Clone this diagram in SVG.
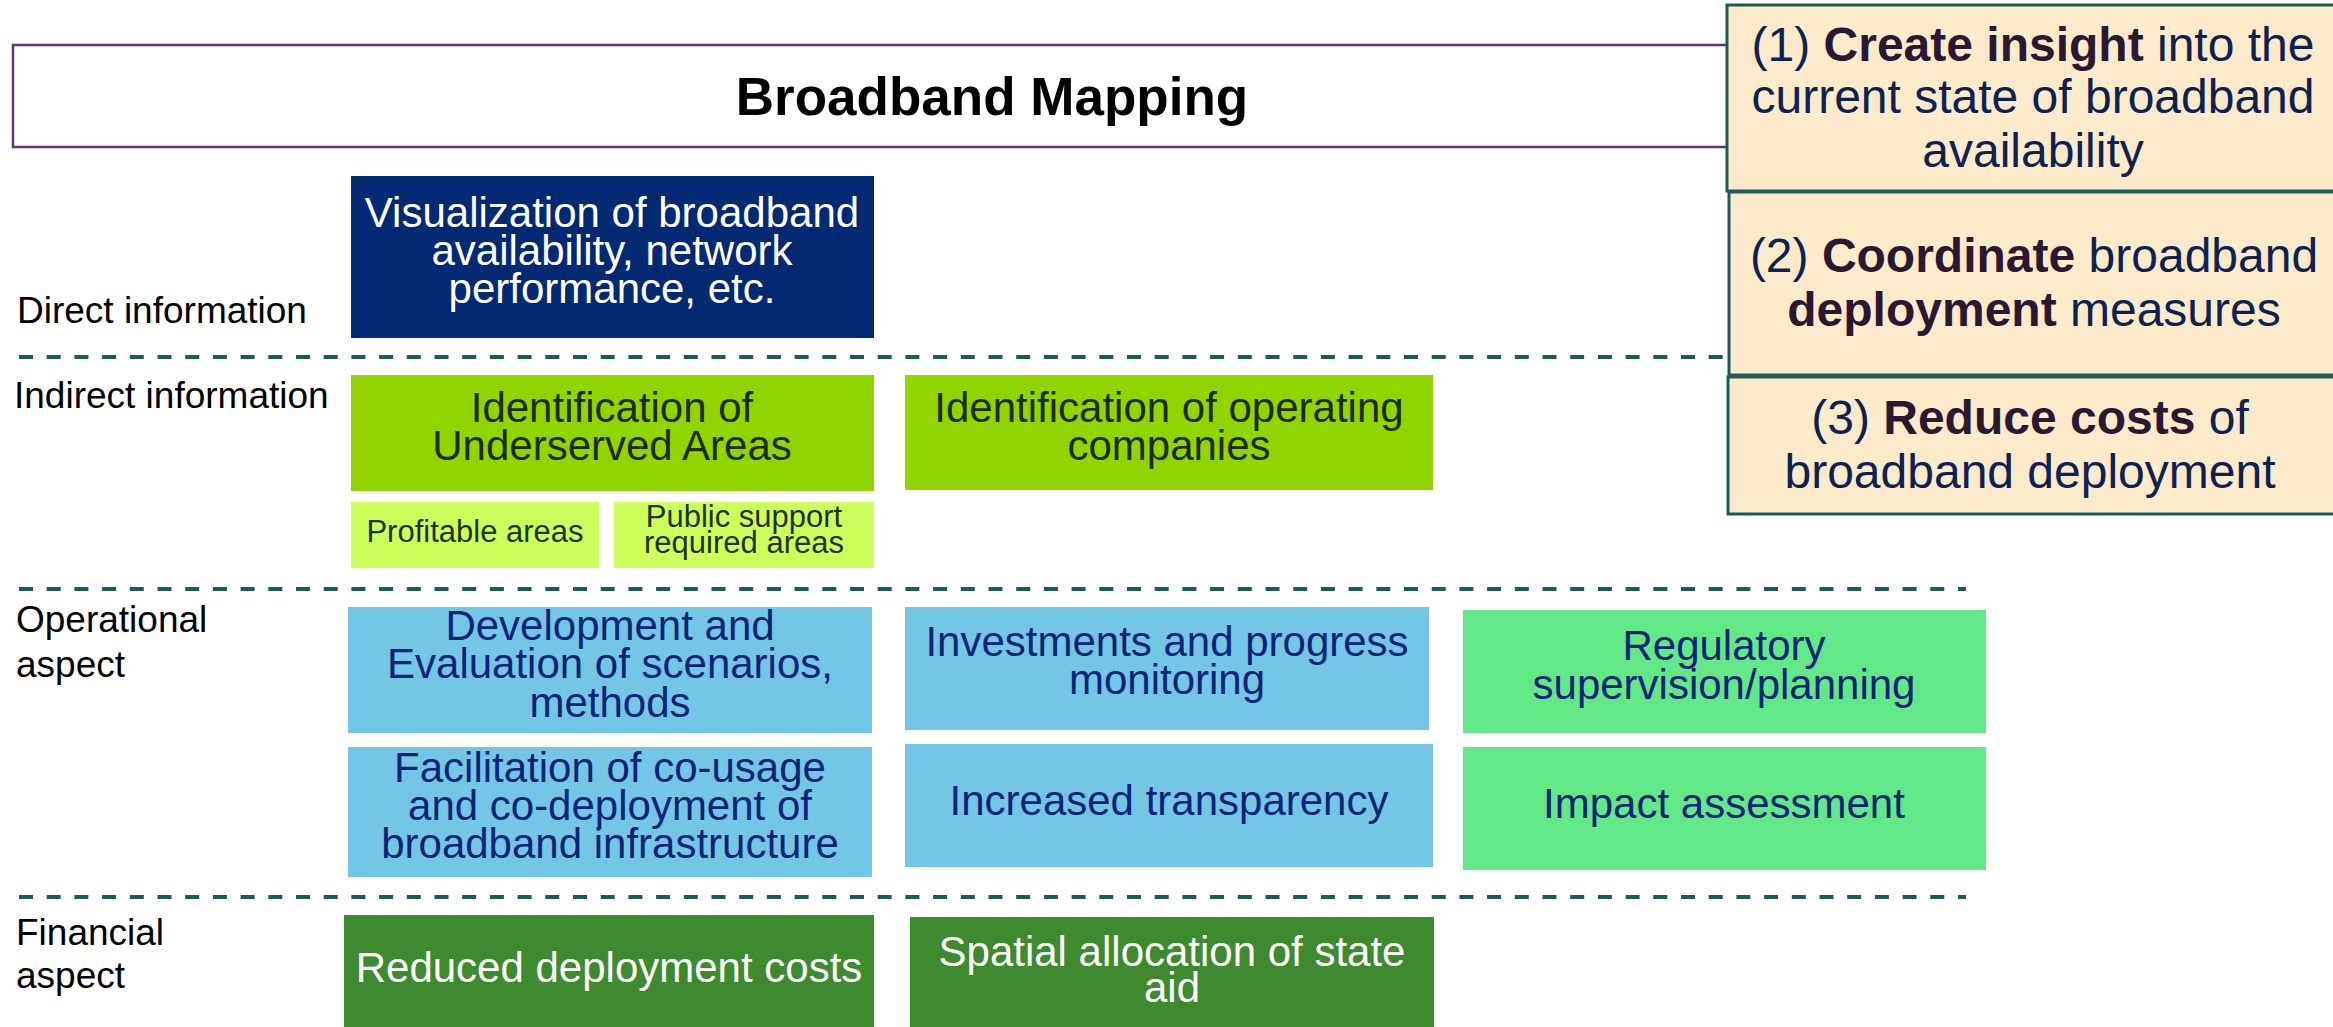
<svg xmlns="http://www.w3.org/2000/svg" width="2333" height="1027" viewBox="0 0 2333 1027">
<style>
text{font-family:"Liberation Sans",Arial,sans-serif;}
.lbl{font-size:37px;fill:#000;}
.nt{font-size:42px;text-anchor:middle;}
.sm{font-size:31px;text-anchor:middle;fill:#1f3310;}
.goal{font-size:48px;text-anchor:middle;fill:#0e2150;}
.goal tspan.b{font-weight:bold;fill:#2a1833;}
.sep{stroke:#1d5a5a;stroke-width:4;stroke-dasharray:14 13.7;fill:none;}
.beige{fill:#fcebcb;stroke:#1d5a5a;stroke-width:3;}
.navy{fill:#012a72;}
.lime{fill:#92d400;}
.llime{fill:#cdff5c;}
.lblue{fill:#73c6e5;}
.mint{fill:#62e887;}
.dgreen{fill:#3e8a2f;}
.tw{fill:#ffffff;}
.tn{fill:#0c2378;}
.tg{fill:#1c2b0c;}
</style>

<g id="title">
  <rect x="13" y="45" width="1730" height="102" fill="#ffffff" stroke="#5c3a6e" stroke-width="2.5"/>
  <text x="992" y="115" font-size="53" font-weight="bold" text-anchor="middle" fill="#000">Broadband Mapping</text>
</g>

<g id="separators">
  <line class="sep" x1="19" y1="357" x2="1727" y2="357"/>
  <line class="sep" x1="19" y1="589" x2="1966" y2="589"/>
  <line class="sep" x1="19" y1="897" x2="1966" y2="897"/>
</g>

<g id="goal1">
  <rect class="beige" x="1727" y="5" width="620" height="186"/>
  <text class="goal" x="2033" y="61">(1) <tspan class="b">Create insight</tspan> into the</text>
  <text class="goal" x="2033" y="113">current state of broadband</text>
  <text class="goal" x="2033" y="167">availability</text>
</g>
<g id="goal2">
  <rect class="beige" x="1729" y="192" width="620" height="183"/>
  <text class="goal" x="2034" y="272">(2) <tspan class="b">Coordinate</tspan> broadband</text>
  <text class="goal" x="2034" y="326"><tspan class="b">deployment</tspan> measures</text>
</g>
<g id="goal3">
  <rect class="beige" x="1728" y="377" width="620" height="137"/>
  <text class="goal" x="2030" y="434">(3) <tspan class="b">Reduce costs</tspan> of</text>
  <text class="goal" x="2030" y="488">broadband deployment</text>
</g>

<g id="label-direct"><text class="lbl" x="17" y="323">Direct information</text></g>
<g id="label-indirect"><text class="lbl" x="14" y="408">Indirect information</text></g>
<g id="label-operational"><text class="lbl" x="16" y="632">Operational</text><text class="lbl" x="16" y="677">aspect</text></g>
<g id="label-financial"><text class="lbl" x="16" y="945">Financial</text><text class="lbl" x="16" y="988">aspect</text></g>

<g id="visualization">
  <rect class="navy" x="351" y="176" width="523" height="162"/>
  <text class="nt tw" x="612" y="227">Visualization of broadband</text>
  <text class="nt tw" x="612" y="265">availability, network</text>
  <text class="nt tw" x="612" y="303">performance, etc.</text>
</g>

<g id="underserved">
  <rect class="lime" x="351" y="375" width="523" height="116"/>
  <text class="nt tg" x="612" y="422">Identification of</text>
  <text class="nt tg" x="612" y="460">Underserved Areas</text>
</g>
<g id="profitable">
  <rect class="llime" x="351" y="502" width="248" height="66"/>
  <text class="sm" x="475" y="542">Profitable areas</text>
</g>
<g id="public-support">
  <rect class="llime" x="614" y="502" width="260" height="66"/>
  <text class="sm" x="744" y="527">Public support</text>
  <text class="sm" x="744" y="553">required areas</text>
</g>
<g id="operating-companies">
  <rect class="lime" x="905" y="375" width="528" height="115"/>
  <text class="nt tg" x="1169" y="422">Identification of operating</text>
  <text class="nt tg" x="1169" y="460">companies</text>
</g>

<g id="development">
  <rect class="lblue" x="348" y="607" width="524" height="126"/>
  <text class="nt tn" x="610" y="640">Development and</text>
  <text class="nt tn" x="610" y="678">Evaluation of scenarios,</text>
  <text class="nt tn" x="610" y="717">methods</text>
</g>
<g id="facilitation">
  <rect class="lblue" x="348" y="747" width="524" height="130"/>
  <text class="nt tn" x="610" y="782">Facilitation of co-usage</text>
  <text class="nt tn" x="610" y="820">and co-deployment of</text>
  <text class="nt tn" x="610" y="858">broadband infrastructure</text>
</g>
<g id="investments">
  <rect class="lblue" x="905" y="607" width="524" height="123"/>
  <text class="nt tn" x="1167" y="656">Investments and progress</text>
  <text class="nt tn" x="1167" y="694">monitoring</text>
</g>
<g id="transparency">
  <rect class="lblue" x="905" y="744" width="528" height="123"/>
  <text class="nt tn" x="1169" y="815">Increased transparency</text>
</g>
<g id="regulatory">
  <rect class="mint" x="1463" y="610" width="523" height="123"/>
  <text class="nt tn" x="1724" y="660">Regulatory</text>
  <text class="nt tn" x="1724" y="699">supervision/planning</text>
</g>
<g id="impact">
  <rect class="mint" x="1463" y="747" width="523" height="123"/>
  <text class="nt tn" x="1724" y="818">Impact assessment</text>
</g>

<g id="reduced-costs">
  <rect class="dgreen" x="344" y="915" width="530" height="120"/>
  <text class="nt tw" x="609" y="982">Reduced deployment costs</text>
</g>
<g id="state-aid">
  <rect class="dgreen" x="910" y="917" width="524" height="120"/>
  <text class="nt tw" x="1172" y="966">Spatial allocation of state</text>
  <text class="nt tw" x="1172" y="1002">aid</text>
</g>
</svg>
